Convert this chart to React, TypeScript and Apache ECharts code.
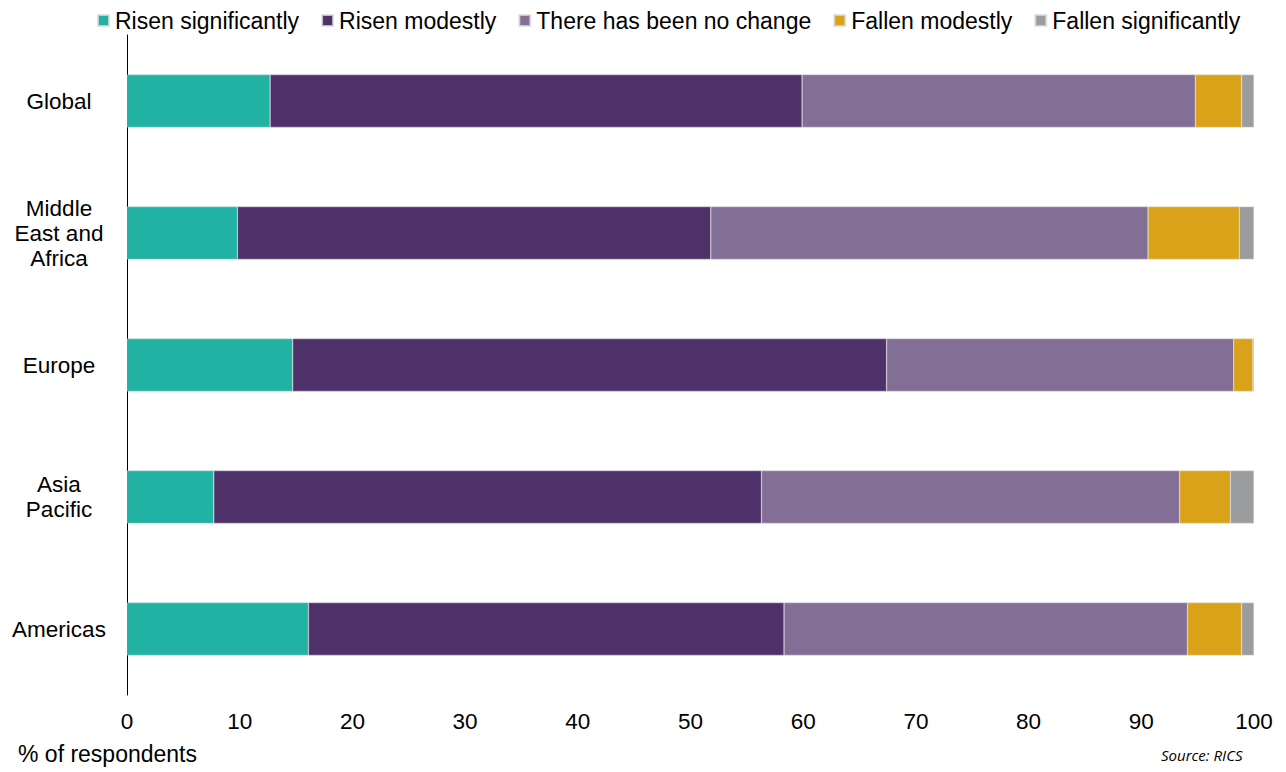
import React, { useEffect, useRef } from "react";
import * as echarts from "echarts";

const categories = ["Global", "Middle\nEast and\nAfrica", "Europe", "Asia\nPacific", "Americas"];
const seriesNames = ["Risen significantly", "Risen modestly", "There has been no change", "Fallen modestly", "Fallen significantly"];
const risenSignificantly = [12.7, 9.8, 14.7, 7.7, 16.1];
const risenModestly = [47.2, 42.0, 52.7, 48.6, 42.2];
const noChange = [34.9, 38.8, 30.8, 37.1, 35.8];
const fallenModestly = [4.1, 8.1, 1.7, 4.5, 4.8];
const fallenSignificantly = [1.1, 1.3, 0.1, 2.1, 1.1];
const xTicks = [0, 10, 20, 30, 40, 50, 60, 70, 80, 90, 100];
const colors = ["#21B2A3", "#4E3169", "#836F95", "#D9A219", "#9B9C9D"];

const FONT = "Liberation Sans, Arial, sans-serif";

export default function App() {
  const ref = useRef<HTMLDivElement>(null);
  useEffect(() => {
    const chart = echarts.init(ref.current!, null, { renderer: "svg" });
    const data = [risenSignificantly, risenModestly, noChange, fallenModestly, fallenSignificantly];
    chart.setOption({
      animation: false,
      textStyle: { fontFamily: FONT },
      legend: {
        top: 4,
        left: 92,
        itemWidth: 11,
        itemHeight: 11,
        itemGap: 22,
        icon: "rect",
        textStyle: { fontSize: 23, color: "#000", padding: [0, 0, 0, 1] },
        data: seriesNames,
      },
      grid: { left: 127, right: 32, top: 35, bottom: 77, containLabel: false },
      xAxis: {
        type: "value",
        min: 0,
        max: 100,
        interval: 10,
        axisLine: { show: false },
        axisTick: { show: false },
        splitLine: { show: false },
        axisLabel: { fontSize: 22.5, color: "#000", margin: 15, formatter: (v: number) => (xTicks.includes(v) ? String(v) : "") },
      },
      yAxis: {
        type: "category",
        inverse: true,
        data: categories,
        axisLine: { show: true, lineStyle: { color: "#000", width: 1 } },
        axisTick: { show: false },
        axisLabel: { fontSize: 22.5, color: "#000", align: "center", margin: 68, lineHeight: 25 },
      },
      series: seriesNames.map((name, i) => ({
        name,
        type: "bar",
        stack: "total",
        barWidth: "40%",
        data: data[i],
        itemStyle: { color: colors[i], borderColor: "rgba(220,220,220,0.8)", borderWidth: 0.5 },
      })),
      graphic: [
        { type: "text", left: 18, top: 742, style: { text: "% of respondents", fontSize: 23, fill: "#000", fontFamily: FONT } },
        { type: "text", left: 1161, top: 747, style: { text: "Source: RICS", fontSize: 15, fontStyle: "italic", fill: "#000", fontFamily: "Open Sans, sans-serif" } },
      ],
    });
    return () => chart.dispose();
  }, []);
  return <div ref={ref} style={{ width: 1286, height: 772, position: "absolute", left: 0, top: 0 }} />;
}
